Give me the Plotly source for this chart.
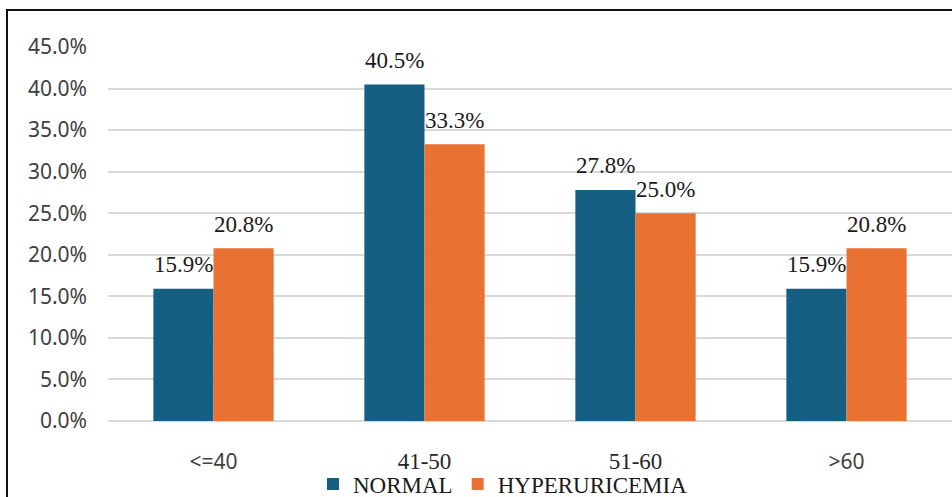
import plotly.graph_objects as go

# Age groups and share of patients in each group
categories = ["<=40", "41-50", "51-60", ">60"]
normal = [15.9, 40.5, 27.8, 15.9]
hyperuricemia = [20.8, 33.3, 25.0, 20.8]
y_ticks = [0, 5, 10, 15, 20, 25, 30, 35, 40, 45]
y_tick_labels = [f"{v:.1f}%" for v in y_ticks]

BLUE = "#156082"
ORANGE = "#E97132"
SERIF = "Liberation Serif, Times New Roman, serif"
SANS = "Noto Sans, Segoe UI, sans-serif"

W, H = 952, 497
L, R, T, B = 108, 0, 47, 76
plot_w = W - L - R
plot_h = H - T - B
y_max = 45
px_per_unit = plot_h / y_max


def category_label(name):
    # range labels are set in the serif face, comparison labels in sans
    if name[0].isdigit():
        return (f'<span style="font-family:{SERIF};font-size:23px;color:#262626">'
                f"{name}</span>")
    return name.replace("<", "&lt;").replace(">", "&gt;")


fig = go.Figure()
fig.add_trace(go.Bar(name="NORMAL", x=categories, y=normal, marker_color=BLUE,
                     marker_line_width=0))
fig.add_trace(go.Bar(name="HYPERURICEMIA", x=categories, y=hyperuricemia,
                     marker_color=ORANGE, marker_line_width=0))

# value labels centred a little above each bar
label_gap = 24 / px_per_unit
for series, shift in ((normal, -30), (hyperuricemia, 30)):
    for cat, v in zip(categories, series):
        fig.add_annotation(x=cat, y=v + label_gap, xref="x", yref="y",
                           text=f"{v:.1f}%", showarrow=False, xshift=shift,
                           yanchor="middle", font=dict(family=SERIF, size=23, color="#1a1a1a"))

# frame around the chart
fig.add_shape(type="rect", xref="paper", yref="paper",
              x0=(7 - L) / plot_w, x1=(W + 20 - L) / plot_w,
              y0=-(B + 20) / plot_h, y1=1 + (T - 10) / plot_h,
              line=dict(color="#111111", width=2), fillcolor="rgba(0,0,0,0)", layer="above")

fig.update_layout(
    width=W, height=H,
    margin=dict(l=L, r=R, t=T, b=B, autoexpand=False),
    paper_bgcolor="white", plot_bgcolor="white",
    barmode="group", bargap=0.43, bargroupgap=0,
    showlegend=True,
    legend=dict(orientation="h", x=(503 - L) / plot_w, xanchor="center",
                y=-(484 - (H - B)) / plot_h, yanchor="middle",
                bgcolor="rgba(0,0,0,0)",
                font=dict(family=SERIF, size=23, color="#1a1a1a"),
                itemwidth=30, tracegroupgap=0),
    xaxis=dict(showgrid=False, showline=False, ticks="",
               tickvals=categories, ticktext=[category_label(c) for c in categories],
               tickfont=dict(family=SANS, size=21, color="#404040"),
               ticklabelstandoff=26),
    yaxis=dict(range=[0, y_max], tickvals=y_ticks, ticktext=y_tick_labels,
               showgrid=True, gridcolor="#d9d9d9", gridwidth=1.5,
               zeroline=True, zerolinecolor="#d9d9d9", zerolinewidth=1.5,
               showline=False, ticks="",
               tickfont=dict(family=SANS, size=21, color="#404040"),
               ticklabelstandoff=20),
)

fig.write_html("out.html")
